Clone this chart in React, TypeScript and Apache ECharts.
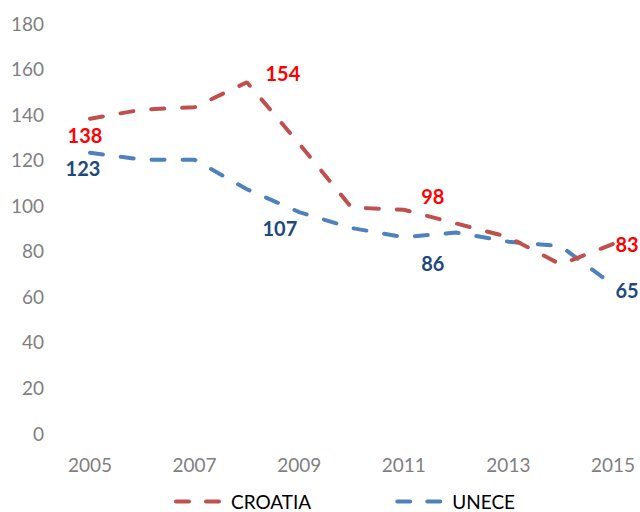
import React, { useEffect, useRef } from "react";
import * as echarts from "echarts";

const years = ["2005", "2006", "2007", "2008", "2009", "2010", "2011", "2012", "2013", "2014", "2015"];
const croatia = [138, 142, 143, 154, 127, 99, 98, 92, 86, 74, 83];
const unece = [123, 120, 120, 107, 97, 90, 86, 88, 84, 82, 65];
// labelled points: index -> [dx, dy] offset
const croatiaLabels: Record<number, [number, number]> = { 0: [-5, 16], 3: [36, -9], 6: [29, -14], 10: [14, 0] };
const uneceLabels: Record<number, [number, number]> = { 0: [-7, 15], 3: [33, 39], 6: [29, 26], 10: [14, 5] };

const FONT = "Lato, 'Open Sans', sans-serif";

function buildData(values: number[], labels: Record<number, [number, number]>, color: string) {
  return values.map((v, i) => {
    const off = labels[i];
    if (!off) return { value: v };
    return {
      value: v,
      label: {
        show: true,
        position: "inside",
        offset: off,
        color,
        fontWeight: "bold",
        fontSize: 20,
        fontFamily: FONT,
      },
    };
  });
}

export default function App() {
  const ref = useRef<HTMLDivElement>(null);
  useEffect(() => {
    if (!ref.current) return;
    const chart = echarts.init(ref.current, null, { renderer: "svg" });
    const dash = [13, 18];
    chart.setOption({
      animation: false,
      grid: { left: 90, right: 27, top: 23, bottom: 79, containLabel: false },
      legend: {
        left: 169,
        top: 487,
        itemWidth: 45,
        itemHeight: 14,
        itemGap: 84,
        lineStyle: { type: [13, 17], width: 4, cap: "round" },
        textStyle: { color: "#000", fontSize: 19, lineHeight: 19, fontFamily: FONT, padding: [0, 0, 0, 5] },
        data: ["CROATIA", "UNECE"],
      },
      xAxis: {
        type: "category",
        data: years,
        boundaryGap: false,
        axisLine: { show: false },
        axisTick: { show: false },
        splitLine: { show: false },
        axisLabel: { interval: 1, color: "#7f7f7f", fontSize: 19, fontFamily: FONT, margin: 22 },
      },
      yAxis: {
        type: "value",
        min: 0,
        max: 180,
        interval: 20,
        axisLine: { show: false },
        axisTick: { show: false },
        splitLine: { show: false },
        axisLabel: { color: "#7f7f7f", fontSize: 19, fontFamily: FONT, margin: 46 },
      },
      series: [
        {
          name: "CROATIA",
          type: "line",
          data: buildData(croatia, croatiaLabels, "#ff0000"),
          symbol: "circle",
          symbolSize: 1,
          showSymbol: true,
          itemStyle: { color: "rgba(192,80,77,0)" },
          lineStyle: { color: "#c0504d", width: 4, type: dash, cap: "round" },
          label: { show: false },
          emphasis: { disabled: true },
          z: 3,
        },
        {
          name: "UNECE",
          type: "line",
          data: buildData(unece, uneceLabels, "#1f497d"),
          symbol: "circle",
          symbolSize: 1,
          showSymbol: true,
          itemStyle: { color: "rgba(79,129,189,0)" },
          lineStyle: { color: "#4f81bd", width: 4, type: dash, cap: "round" },
          label: { show: false },
          emphasis: { disabled: true },
          z: 2,
        },
      ],
    });
    return () => chart.dispose();
  }, []);
  return <div ref={ref} style={{ width: 640, height: 512, position: "absolute", left: 0, top: 0 }} />;
}
